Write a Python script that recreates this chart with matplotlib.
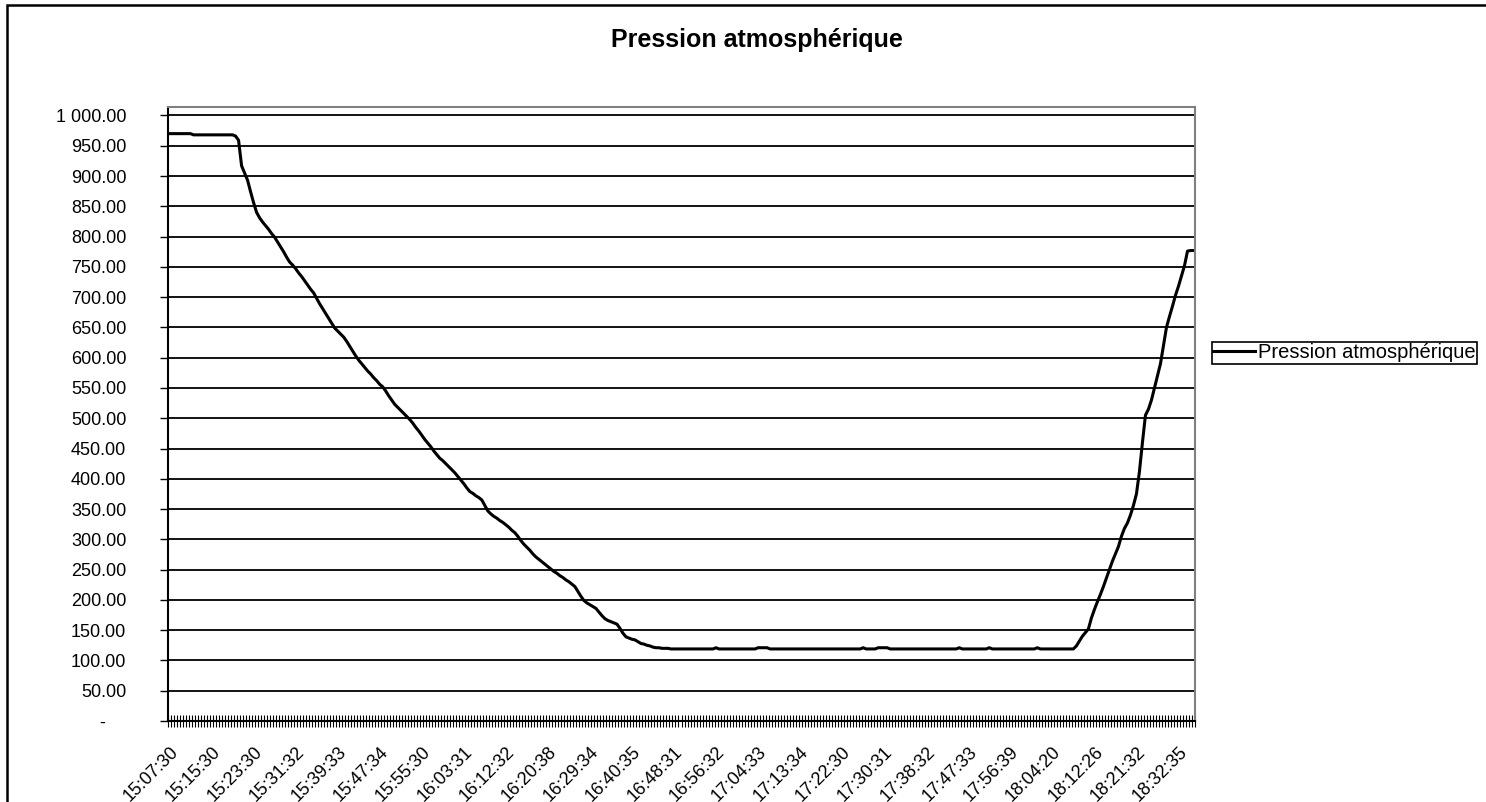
import matplotlib.pyplot as plt
import matplotlib.patches as patches
import numpy as np

plt.rcParams['font.family'] = ['Liberation Sans', 'DejaVu Sans']

titre = "Pression atmosphérique"

# one label every 14 readings
heures = ["15:07:30", "15:15:30", "15:23:30", "15:31:32", "15:39:33",
          "15:47:34", "15:55:30", "16:03:31", "16:12:32", "16:20:38",
          "16:29:34", "16:40:35", "16:48:31", "16:56:32", "17:04:33",
          "17:13:34", "17:22:30", "17:30:31", "17:38:32", "17:47:33",
          "17:56:39", "18:04:20", "18:12:26", "18:21:32", "18:32:35"]
pas_etiquette = 14

# readings (hPa), 14 per row
pression = [
    970, 970, 970, 970, 970, 970, 970, 970, 968, 968, 968, 968, 968, 968,
    968, 968, 968, 968, 968, 968, 968, 968, 966, 959, 917, 905, 893, 874,
    856, 840, 831, 824, 818, 812, 805, 799, 791, 783, 775, 766, 758, 753,
    747, 740, 734, 727, 720, 713, 707, 698, 689, 681, 673, 665, 657, 649,
    644, 639, 634, 627, 619, 611, 603, 596, 590, 584, 578, 573, 567, 562,
    556, 552, 545, 537, 530, 523, 518, 513, 508, 503, 498, 492, 485, 479,
    472, 465, 459, 453, 446, 440, 434, 430, 425, 420, 415, 410, 404, 398,
    392, 385, 379, 376, 372, 369, 365, 356, 347, 342, 338, 335, 331, 328,
    324, 320, 315, 311, 305, 298, 292, 287, 282, 276, 271, 267, 263, 259,
    255, 251, 247, 244, 240, 237, 233, 230, 226, 222, 214, 206, 199, 195,
    192, 189, 186, 180, 174, 169, 166, 164, 162, 160, 153, 145, 139, 137,
    135, 134, 131, 128, 127, 125, 124, 122, 121, 121, 120, 120, 120, 119,
    119, 119, 119, 119, 119, 119, 119, 119, 119, 119, 119, 119, 119, 119,
    121, 119, 119, 119, 119, 119, 119, 119, 119, 119, 119, 119, 119, 119,
    121, 121, 121, 121, 119, 119, 119, 119, 119, 119, 119, 119, 119, 119,
    119, 119, 119, 119, 119, 119, 119, 119, 119, 119, 119, 119, 119, 119,
    119, 119, 119, 119, 119, 119, 119, 121, 119, 119, 119, 119, 121, 121,
    121, 121, 119, 119, 119, 119, 119, 119, 119, 119, 119, 119, 119, 119,
    119, 119, 119, 119, 119, 119, 119, 119, 119, 119, 119, 121, 119, 119,
    119, 119, 119, 119, 119, 119, 119, 121, 119, 119, 119, 119, 119, 119,
    119, 119, 119, 119, 119, 119, 119, 119, 119, 121, 119, 119, 119, 119,
    119, 119, 119, 119, 119, 119, 119, 119, 124, 132, 140, 146, 152, 170,
    184, 197, 209, 222, 236, 250, 264, 276, 288, 305, 318, 327, 340, 356,
    375, 412, 460, 505, 515, 530, 550, 570, 590, 620, 650, 668, 685, 703,
    718, 735, 752, 776, 777, 777,
]

x = np.arange(len(pression))
W, H = 1486, 802

fig = plt.figure(figsize=(W / 100, H / 100), dpi=100)
fig.patch.set_facecolor('white')

# chart area border (only left and top edges are inside the picture)
fig.patches.append(patches.Rectangle((7 / W, -0.2), 1.5, 1.2 - 5 / H,
                                     transform=fig.transFigure, fill=False,
                                     ec='black', lw=1.8))

ax = fig.add_axes([168 / W, 1 - 721 / H, (1195 - 168) / W, (721 - 107) / H])
ax.plot(x, pression, color='black', lw=2.2, label=titre,
        solid_joinstyle='round')

ax.set_xlim(-0.5, len(pression) - 0.5)
ax.set_ylim(0, 1014)

yt = np.arange(0, 1001, 50)
ax.set_yticks(yt)
ax.set_yticklabels(['-    '] + [f"{v:,.2f}".replace(",", " ") for v in yt[1:]])
ax.grid(axis='y', color='black', lw=1.3)
ax.set_axisbelow(True)

ax.set_xticks(x[::pas_etiquette])
ax.set_xticklabels(heures, rotation=45, ha='right', rotation_mode='anchor')
ax.set_xticks(np.arange(-0.5, len(pression), 1), minor=True)

ax.tick_params(axis='y', direction='out', length=6, width=1, pad=24,
               labelsize=13)
ax.tick_params(axis='x', which='major', length=0, pad=16, labelsize=13)
ax.tick_params(axis='x', which='minor', direction='inout', length=8,
               width=0.8)

for s in ['left', 'bottom']:
    ax.spines[s].set_color('black')
    ax.spines[s].set_linewidth(1.5)
for s in ['top', 'right']:
    ax.spines[s].set_color('#808080')
    ax.spines[s].set_linewidth(1.5)

fig.text(757 / W, 1 - 40 / H, titre, ha='center', va='center',
         fontsize=18, fontweight='bold')

leg = ax.legend(loc='center left', bbox_to_anchor=(1212 / W, 1 - 353 / H),
                bbox_transform=fig.transFigure, fontsize=14.5,
                handlelength=2.1, handletextpad=0.15, borderpad=0.05,
                borderaxespad=0, fancybox=False, framealpha=1)
leg.get_frame().set_edgecolor('black')
leg.get_frame().set_linewidth(1.2)

fig.savefig('out.png', dpi=100, facecolor='white')
